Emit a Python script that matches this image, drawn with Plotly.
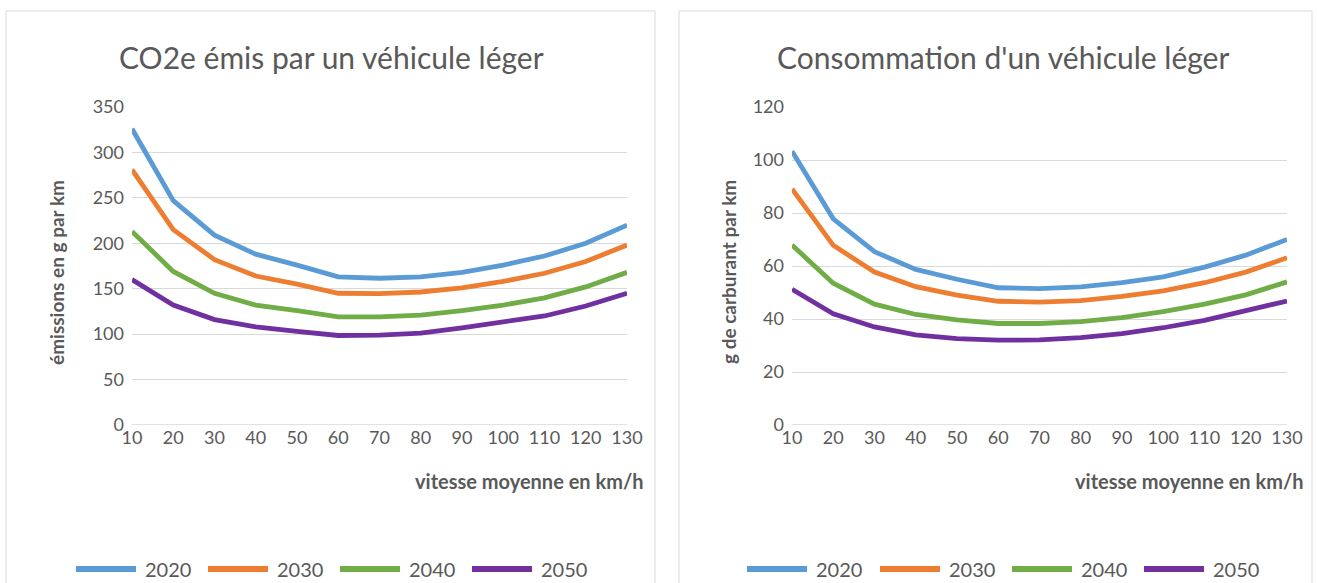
import plotly.graph_objects as go

speeds = [10, 20, 30, 40, 50, 60, 70, 80, 90, 100, 110, 120, 130]
years = ["2020", "2030", "2040", "2050"]
colors = ["#5B9BD5", "#ED7D31", "#70AD47", "#7030A0"]

co2_2020 = [326, 247, 209, 188, 176, 163, 161.5, 163, 168, 176, 186, 200, 220]
co2_2030 = [281, 215, 182, 164, 155, 145, 144.6, 146.4, 151, 158, 167, 180, 198]
co2_2040 = [213, 169, 145, 132, 126, 119, 119, 121, 126, 132, 140, 152, 168]
co2_2050 = [160, 132, 116, 108, 103, 98.5, 99, 101, 107, 113, 120, 131, 145]

fuel_2020 = [103.3, 77.8, 65.4, 58.7, 55, 51.8, 51.5, 52.1, 53.7, 55.9, 59.6, 64.1, 70]
fuel_2030 = [89.1, 67.8, 57.7, 52.2, 49, 46.7, 46.4, 46.9, 48.5, 50.6, 53.7, 57.7, 63.1]
fuel_2040 = [67.9, 53.5, 45.6, 41.7, 39.7, 38.3, 38.3, 39, 40.5, 42.8, 45.6, 49.1, 54]
fuel_2050 = [51.2, 42, 37, 34, 32.6, 32, 32.1, 33, 34.5, 36.7, 39.5, 43, 46.8]

co2_series = [co2_2020, co2_2030, co2_2040, co2_2050]
fuel_series = [fuel_2020, fuel_2030, fuel_2040, fuel_2050]

title_left = "CO2e émis par un véhicule léger"
title_right = "Consommation d'un véhicule léger"
ytitle_left = "émissions en g par km"
ytitle_right = "g de carburant par km"
xtitle = "vitesse moyenne en km/h"

W, H = 1317, 583
FONT = "Lato"
GRAY = "#595959"
GRID = "#D9D9D9"

fig = go.Figure()
for i, y in enumerate(years):
    fig.add_trace(go.Scatter(x=speeds, y=co2_series[i], mode="lines", name=y,
                             line=dict(color=colors[i], width=4.8), xaxis="x", yaxis="y",
                             showlegend=False))
    fig.add_trace(go.Scatter(x=speeds, y=fuel_series[i], mode="lines", name=y,
                             line=dict(color=colors[i], width=4.8), xaxis="x2", yaxis="y2",
                             showlegend=False))

def px(x):
    return x / W

def py(y):
    return 1 - y / H

ydom = [py(425), py(107)]
axis_common = dict(showline=False, zeroline=False, ticks="",
                   tickfont=dict(family=FONT, size=18, color=GRAY))
fig.update_layout(
    xaxis=dict(domain=[px(132), px(627)], range=[10, 130], tickvals=speeds,
               showgrid=False, anchor="y", **axis_common),
    yaxis=dict(domain=ydom, range=[0, 350], dtick=50, showgrid=True, gridcolor=GRID,
               gridwidth=1.3, anchor="x", ticklabelstandoff=7, **axis_common),
    xaxis2=dict(domain=[px(792), px(1287)], range=[10, 130], tickvals=speeds,
                showgrid=False, anchor="y2", **axis_common),
    yaxis2=dict(domain=ydom, range=[0, 120], dtick=20, showgrid=True, gridcolor=GRID,
                gridwidth=1.3, anchor="x2", ticklabelstandoff=7, **axis_common),
)

shapes = []
annotations = []
# panel borders
for x0, x1 in [(6, 655), (679, 1312)]:
    shapes.append(dict(type="rect", xref="paper", yref="paper", x0=px(x0), x1=px(x1),
                       y0=py(600), y1=py(11), line=dict(color=GRID, width=1)))
# zero baseline drawn as gridline
for xr, yr in [("x", "y"), ("x2", "y2")]:
    shapes.append(dict(type="line", xref=xr + " domain", yref=yr, x0=0, x1=1, y0=0, y1=0,
                       line=dict(color=GRID, width=1.3), layer="below"))

for cx, t in [(331, title_left), (1003, title_right)]:
    annotations.append(dict(text=t, x=px(cx), y=py(57), xref="paper", yref="paper",
                            showarrow=False, xanchor="center", yanchor="middle",
                            font=dict(family=FONT, size=30, color=GRAY)))
for cx, t in [(56, ytitle_left), (728, ytitle_right)]:
    annotations.append(dict(text="<b>" + t + "</b>", x=px(cx), y=py(272), xref="paper",
                            yref="paper", showarrow=False, textangle=-90,
                            xanchor="center", yanchor="middle",
                            font=dict(family=FONT, size=19, color=GRAY)))
for rx in [646, 1306]:
    annotations.append(dict(text="<b>" + xtitle + "</b>", x=px(rx), y=py(481), xref="paper",
                            yref="paper", showarrow=False, xanchor="right", yanchor="middle",
                            font=dict(family=FONT, size=20, color=GRAY)))

# legends
leg_left = [76, 208, 340, 472]
leg_right = [747, 880, 1012, 1144]
for starts in [leg_left, leg_right]:
    for i, y in enumerate(years):
        x0 = starts[i]
        shapes.append(dict(type="line", xref="paper", yref="paper", x0=px(x0), x1=px(x0 + 60),
                           y0=py(569), y1=py(569), line=dict(color=colors[i], width=6)))
        annotations.append(dict(text=y, x=px(x0 + 67), y=py(569), xref="paper", yref="paper",
                                showarrow=False, xanchor="left", yanchor="middle",
                                font=dict(family=FONT, size=20, color=GRAY)))

fig.update_layout(shapes=shapes, annotations=annotations, width=W, height=H,
                  margin=dict(l=0, r=0, t=0, b=0, pad=0, autoexpand=False),
                  plot_bgcolor="white", paper_bgcolor="white", showlegend=False)
fig.write_html("out.html", config={"displayModeBar": False},
               post_script="document.body.style.margin='0';document.body.style.overflow='hidden';")
